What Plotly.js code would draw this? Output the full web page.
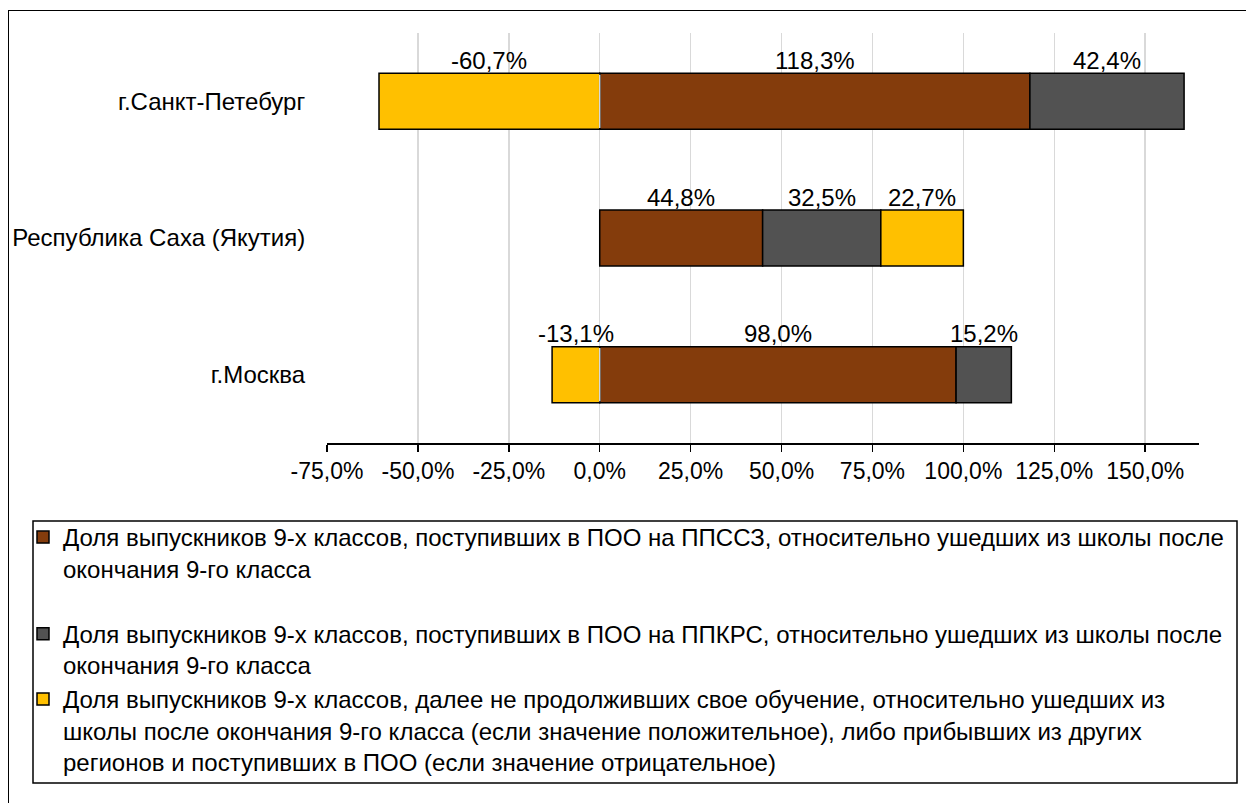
<!DOCTYPE html>
<html>
<head>
<meta charset="utf-8">
<script src="https://cdn.plot.ly/plotly-3.0.1.min.js"></script>
<style>
  html, body { margin: 0; padding: 0; background: #fff; }
  #wrap { position: relative; width: 1246px; height: 803px; overflow: hidden; }
  #chart { position: absolute; left: 0; top: 0; width: 1246px; height: 803px; }
  #frame { position: absolute; left: 8px; top: 10px; width: 1260px; height: 820px;
           border: 1.5px solid #000; pointer-events: none; box-sizing: border-box; }
</style>
</head>
<body>
<div id="wrap">
  <div id="chart"></div>
  <div id="frame"></div>
</div>
<script>
// ---- data ----
const categories = ['г.Санкт-Петебург', 'Республика Саха (Якутия)', 'г.Москва'];
const ppsszValues = [118.3, 44.8, 98.0];   // brown
const ppkrsValues = [42.4, 32.5, 15.2];    // gray
const otherValues = [-60.7, 22.7, -13.1];  // yellow
const seriesNames = [
  'Доля выпускников 9-х классов, поступивших в ПОО на ППССЗ, относительно ушедших из школы после<br>окончания 9-го класса<br>&nbsp;',
  'Доля выпускников 9-х классов, поступивших в ПОО на ППКРС, относительно ушедших из школы после<br>окончания 9-го класса',
  'Доля выпускников 9-х классов, далее не продолживших свое обучение, относительно ушедших из<br>школы после окончания 9-го класса (если значение положительное), либо прибывших из других<br>регионов и поступивших в ПОО (если значение отрицательное)'
];
const tickValues = [-75, -50, -25, 0, 25, 50, 75, 100, 125, 150];
const tickLabels = ['-75,0%', '-50,0%', '-25,0%', '0,0%', '25,0%', '50,0%', '75,0%', '100,0%', '125,0%', '150,0%'];

// ---- styles ----
const FONT = 'Liberation Sans, Arial, sans-serif';
const colors = ['#843C0C', '#525252', '#FFC000'];
const seriesValues = [ppsszValues, ppkrsValues, otherValues];

const fmt = v => v.toFixed(1).replace('.', ',') + '%';

const traces = seriesValues.map((vals, i) => ({
  type: 'bar',
  orientation: 'h',
  name: seriesNames[i],
  legendgroup: 'g' + i,
  y: categories,
  x: vals,
  marker: { color: colors[i], line: { color: '#000', width: 1.5 } },
  hoverinfo: 'x+name'
}));

// data labels above each segment, centred on the segment (relative stacking)
const annotations = [];
categories.forEach((cat, ci) => {
  let pos = 0, neg = 0;
  seriesValues.forEach(vals => {
    const v = vals[ci];
    let start, end;
    if (v >= 0) { start = pos; end = pos + v; pos = end; }
    else { start = neg; end = neg + v; neg = end; }
    annotations.push({
      x: (start + end) / 2, y: cat, xref: 'x', yref: 'y',
      text: fmt(v), showarrow: false, yshift: 41,
      font: { family: FONT, size: 24, color: '#000' }
    });
  });
});

const L = 327, R = 1199, T = 33, B = 443;
const W = 1246, H = 803;
const pw = R - L, ph = B - T;
const px2x = p => (p - L) / pw;
const px2y = p => (B - p) / ph;

// light zero gridline drawn over bars where negative segment meets positive one
const shapes = [];
categories.forEach((cat, ci) => {
  if (otherValues[ci] < 0) {
    shapes.push({ type: 'line', xref: 'x', yref: 'y', x0: 0, x1: 0,
      y0: ci - 0.195, y1: ci + 0.195, layer: 'above',
      line: { color: '#D9D9D9', width: 1.5 } });
  }
});
// legend frame
shapes.push({ type: 'rect', xref: 'paper', yref: 'paper',
  x0: px2x(33), x1: px2x(1237), y0: px2y(783), y1: px2y(521),
  line: { color: '#000', width: 1.5 }, fillcolor: 'rgba(0,0,0,0)', layer: 'above' });

const layout = {
  width: W, height: H,
  margin: { l: L, r: W - R, t: T, b: H - B, pad: 0 },
  paper_bgcolor: '#fff', plot_bgcolor: '#fff',
  barmode: 'relative',
  bargap: 0.59,
  showlegend: true,
  font: { family: FONT, size: 24, color: '#000' },
  xaxis: {
    range: [-75, 164.8],
    tickvals: tickValues, ticktext: tickLabels,
    showgrid: true, gridcolor: '#D9D9D9', gridwidth: 1.5,
    zeroline: false,
    showline: true, linecolor: '#000', linewidth: 1.5,
    ticks: 'outside', ticklen: 7, tickwidth: 1.5, tickcolor: '#000',
    tickfont: { family: FONT, size: 23, color: '#000' },
    fixedrange: true
  },
  yaxis: {
    type: 'category',
    categoryorder: 'array', categoryarray: categories,
    autorange: 'reversed',
    showgrid: false, zeroline: false, showline: false,
    ticks: 'outside', ticklen: 16, tickcolor: 'rgba(0,0,0,0)',
    tickfont: { family: FONT, size: 24, color: '#000' },
    fixedrange: true
  },
  legend: {
    x: px2x(23), xanchor: 'left',
    y: px2y(515), yanchor: 'top',
    borderwidth: 0, bgcolor: 'rgba(0,0,0,0)',
    font: { family: FONT, size: 24, color: '#000' },
    valign: 'top', traceorder: 'grouped', tracegroupgap: 0,
    itemclick: false, itemdoubleclick: false
  },
  annotations: annotations,
  shapes: shapes
};

Plotly.newPlot('chart', traces, layout, { displayModeBar: false, staticPlot: true });
</script>
</body>
</html>
